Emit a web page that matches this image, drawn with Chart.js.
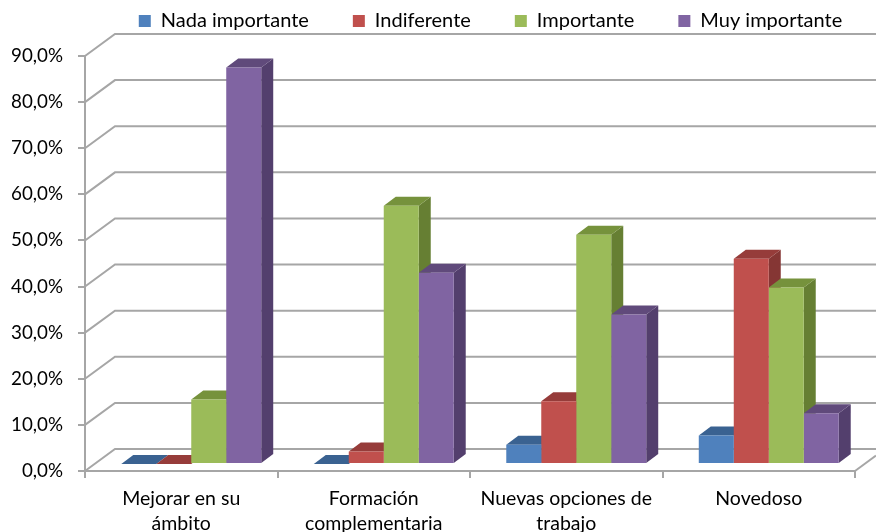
<!DOCTYPE html>
<html>
<head>
<meta charset="utf-8">
<style>
  html, body { margin: 0; padding: 0; background: #fff; }
  canvas { display: block; }
</style>
<script src="https://cdn.jsdelivr.net/npm/chart.js@4"></script>
</head>
<body>
<canvas id="myChart" width="876" height="532"></canvas>
<script>
var categories = [
    ['Mejorar en su', 'ámbito'],
    ['Formación', 'complementaria'],
    ['Nuevas opciones de', 'trabajo'],
    ['Novedoso']
];
var nadaImportante = [0, 0, 4.2, 6.2];
var indiferente = [0, 2.7, 13.6, 44.5];
var importante = [14, 56, 49.7, 38.3];
var muyImportante = [86, 41.5, 32.4, 11];

var gridColor = '#a6a6a6';
var wallDepth = { x: 30, y: 22 };
var barShift = { x: 10, y: 7 };
var barDepth = { x: 12, y: 9 };
var legendShift = 63;
var legendPadding = 44;

// Walls, and the side and top faces of the bars, are drawn off the real scales
var box3d = {
    id: 'box3d',
    beforeInit: function (chart) {
        var fit = chart.legend.fit;
        chart.legend.fit = function () {
            fit.call(this);
            this.height = 56;
        };
    },
    afterLayout: function (chart) {
        chart.legend.left += legendShift;
        chart.legend.right += legendShift;
        chart.legend.top = 11 - legendPadding;
    },
    beforeDatasetsDraw: function (chart) {
        var ctx = chart.ctx;
        var area = chart.chartArea;
        var yScale = chart.scales.y;

        ctx.save();
        ctx.strokeStyle = gridColor;
        ctx.lineWidth = 2;
        yScale.ticks.forEach(function (tick) {
            var y = yScale.getPixelForValue(tick.value);
            ctx.beginPath();
            ctx.moveTo(area.left, y);
            ctx.lineTo(area.left + wallDepth.x, y - wallDepth.y);
            ctx.lineTo(chart.width, y - wallDepth.y);
            ctx.stroke();
        });
        ctx.beginPath();
        ctx.moveTo(area.right, area.bottom);
        ctx.lineTo(chart.width, area.bottom - wallDepth.y * (chart.width - area.right) / wallDepth.x);
        ctx.stroke();
        ctx.restore();

        ctx.save();
        ctx.translate(barShift.x, -barShift.y);
        chart.data.datasets.forEach(function (ds, i) {
            chart.getDatasetMeta(i).data.forEach(function (bar) {
                var right = bar.x + bar.width / 2;
                var left = bar.x - bar.width / 2;
                ctx.fillStyle = ds.sideColor;
                ctx.beginPath();
                ctx.moveTo(right, bar.base);
                ctx.lineTo(right + barDepth.x, bar.base - barDepth.y);
                ctx.lineTo(right + barDepth.x, bar.y - barDepth.y);
                ctx.lineTo(right, bar.y);
                ctx.closePath();
                ctx.fill();
                ctx.fillStyle = ds.topColor;
                ctx.beginPath();
                ctx.moveTo(left, bar.y);
                ctx.lineTo(left + barDepth.x, bar.y - barDepth.y);
                ctx.lineTo(right + barDepth.x, bar.y - barDepth.y);
                ctx.lineTo(right, bar.y);
                ctx.closePath();
                ctx.fill();
            });
        });
    },
    afterDatasetsDraw: function (chart) {
        chart.ctx.restore();
    }
};

var ctx = document.getElementById('myChart').getContext('2d');

var myChart = new Chart(ctx, {
    type: 'bar',
    data: {
        labels: categories,
        datasets: [
            { label: 'Nada importante', data: nadaImportante, backgroundColor: '#4f81bd', sideColor: '#345a8a', topColor: '#3a6291' },
            { label: 'Indiferente', data: indiferente, backgroundColor: '#c0504d', sideColor: '#853634', topColor: '#963c3a' },
            { label: 'Importante', data: importante, backgroundColor: '#9bbb59', sideColor: '#667f33', topColor: '#76923c' },
            { label: 'Muy importante', data: muyImportante, backgroundColor: '#8064a2', sideColor: '#533f6d', topColor: '#604a7b' }
        ]
    },
    options: {
        responsive: false,
        animation: false,
        layout: { padding: { right: 21 } },
        datasets: { bar: { categoryPercentage: 0.727, barPercentage: 1, clip: false } },
        plugins: {
            tooltip: { enabled: false },
            legend: {
                position: 'top',
                labels: {
                    boxWidth: 12,
                    boxHeight: 12,
                    padding: legendPadding,
                    color: '#000',
                    font: { family: 'Lato', size: 20 }
                }
            }
        },
        scales: {
            x: {
                afterFit: function (scale) { scale.height = 61; },
                border: { color: gridColor, width: 2 },
                grid: { offset: true, drawOnChartArea: false, color: gridColor, lineWidth: 2, tickLength: 7 },
                ticks: { color: '#000', font: { family: 'Lato', size: 19.5, lineHeight: 1.3 }, maxRotation: 0, padding: 8 }
            },
            y: {
                min: 0,
                max: 90,
                afterFit: function (scale) { scale.width = 85; },
                border: { color: gridColor, width: 2 },
                grid: { drawOnChartArea: false, color: gridColor, lineWidth: 2, tickLength: 7 },
                ticks: {
                    stepSize: 10,
                    color: '#000',
                    font: { family: 'Lato', size: 18.8 },
                    padding: 15,
                    callback: function (v) { return v.toFixed(1).replace('.', ',') + '%'; }
                }
            }
        }
    },
    plugins: [box3d]
});
</script>
</body>
</html>
